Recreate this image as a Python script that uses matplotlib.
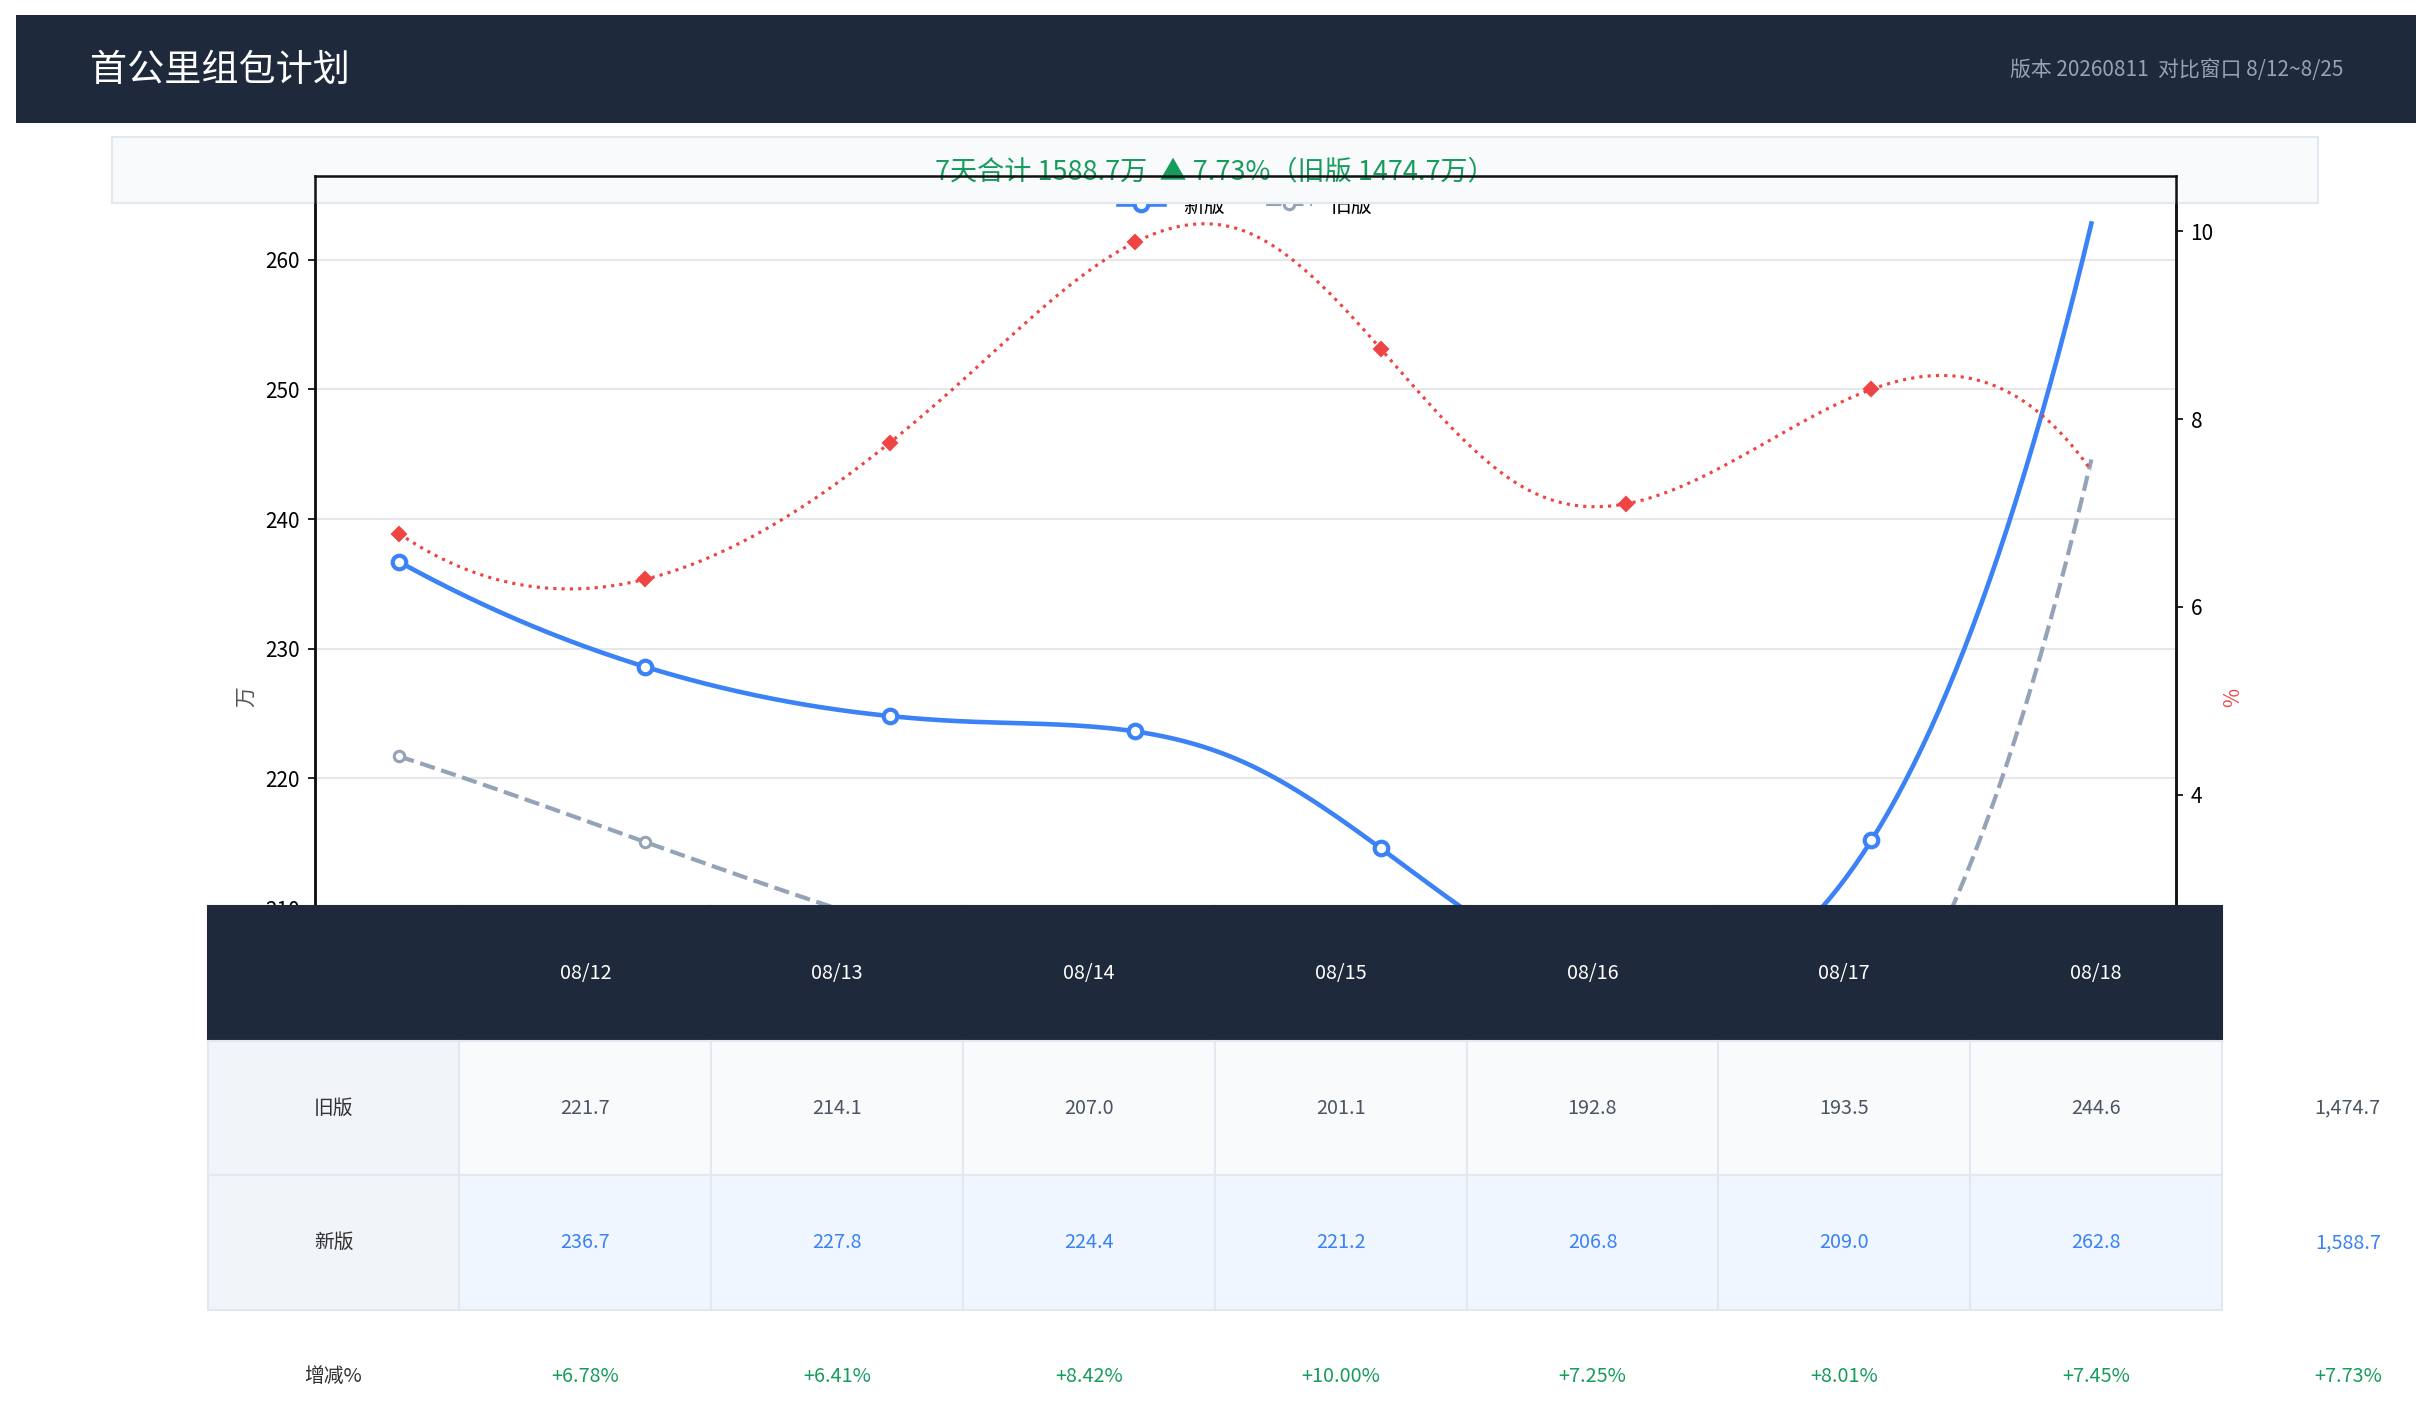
import numpy as np
import matplotlib
matplotlib.use('Agg')
import matplotlib.pyplot as plt
from matplotlib.patches import Rectangle

plt.rcParams['font.family'] = ['Noto Sans CJK SC', 'DejaVu Sans']

days = ['08/12', '08/13', '08/14', '08/15', '08/16', '08/17', '08/18']
old_vals = [221.7, 214.1, 207.0, 201.1, 192.8, 193.5, 244.6]
new_vals = [236.7, 227.8, 224.4, 221.2, 206.8, 209.0, 262.8]
pct_vals = [6.78, 6.41, 8.42, 10.00, 7.25, 8.01, 7.45]
old_total = 1474.7
new_total = 1588.7
pct_total = 7.73

BLUE = '#3b82f6'
GRAY = '#94a3b8'
RED = '#ef4444'
NAVY = '#1e293b'
GREEN = '#179c5e'

W, H = 2430, 1403


# not-a-knot cubic spline, unit spacing (same look as make_interp_spline k=3)
def smooth(y, xs):
    y = np.asarray(y, float)
    n = len(y)
    A = np.zeros((n, n))
    b = np.zeros(n)
    A[0, :3] = [1, -2, 1]
    A[-1, -3:] = [1, -2, 1]
    for i in range(1, n - 1):
        A[i, i - 1:i + 2] = [1, 4, 1]
        b[i] = 6 * (y[i + 1] - 2 * y[i] + y[i - 1])
    M = np.linalg.solve(A, b)
    i = np.clip(np.floor(xs).astype(int), 0, n - 2)
    t = xs - i
    return (M[i] * (1 - t) ** 3 / 6 + M[i + 1] * t ** 3 / 6
            + (y[i] - M[i] / 6) * (1 - t) + (y[i + 1] - M[i + 1] / 6) * t)


x = np.arange(len(days))
xs = np.linspace(0, len(days) - 1, 201)
every = 29

fig = plt.figure(figsize=(W / 150, H / 150), dpi=150)

# header band
fig.patches.append(Rectangle((15.5 / W, 1 - 123 / H), 2400 / W, 108 / H,
                             transform=fig.transFigure, fc=NAVY, ec='none', zorder=1))
fig.text(90 / W, 1 - 70 / H, '首公里组包计划', color='white', fontsize=17.8,
         va='center', ha='left', zorder=2)
fig.text(2343 / W, 1 - 70 / H, '版本 20260811  对比窗口 8/12~8/25', color='#94a3b8',
         fontsize=10, va='center', ha='right', zorder=2)

# summary box
fig.patches.append(Rectangle((111.6 / W, 1 - 203 / H), 2206 / W, 66.3 / H,
                             transform=fig.transFigure, fc='#f8fafc', ec='#e2e8f0',
                             lw=1, zorder=1))
summary = f'7天合计 {new_total:.1f}万  ▲ {pct_total:.2f}%（旧版 {old_total:.1f}万）'
fig.text(0.5, 1 - 172 / H, summary, color=GREEN, fontsize=13,
         ha='center', va='center', zorder=1.5)

# main chart
ax = fig.add_axes([314.6 / W, 1 - 1218 / H, (2176 - 314.6) / W, (1218 - 176) / H])
ax.set_zorder(0)
ax.plot(xs, smooth(new_vals, xs), color=BLUE, lw=2.2, marker='o', ms=6.5,
        mfc='white', mec=BLUE, mew=2, markevery=every, label='新版')
ax.plot(xs, smooth(old_vals, xs), color=GRAY, lw=2, ls='--', marker='o', ms=5,
        mfc='white', mec=GRAY, mew=1.5, markevery=every, label='旧版')
ax.set_ylim(186.1, 266.46)
ax.grid(axis='y', color='#e5e7eb', lw=1)
ax.set_axisbelow(True)
ax.set_ylabel('万', color='#555555', fontsize=10)
ax.tick_params(labelsize=10)
ax.legend(loc='upper center', ncol=2, frameon=False, fontsize=10,
          handlelength=2.2, handletextpad=0.9, columnspacing=2)

ax2 = ax.twinx()
ax2.set_zorder(2)
ax2.plot(xs, smooth(pct_vals, xs), color=RED, lw=1.5, ls=':', marker='D', ms=5,
         mfc=RED, mec=RED, markevery=every)
ax2.set_ylim(-0.51, 10.59)
ax2.set_ylabel('%', color=RED, fontsize=10)
ax2.tick_params(labelsize=10)
for a in (ax, ax2):
    for s in a.spines.values():
        s.set_linewidth(1.2)
        s.set_color('#111111')

# table on top of the lower part of the chart
tax = fig.add_axes([207.7 / W, 1 - 1444 / H, 2266 / W, 537.6 / H])
tax.set_zorder(5)
tax.axis('off')

header = [''] + days + ['']
row_old = ['旧版'] + [f'{v:.1f}' for v in old_vals] + [f'{old_total:,.1f}']
row_new = ['新版'] + [f'{v:.1f}' for v in new_vals] + [f'{new_total:,.1f}']
row_pct = ['增减%'] + [f'+{v:.2f}%' for v in pct_vals] + [f'+{pct_total:.2f}%']

tab = tax.table(cellText=[header, row_old, row_new, row_pct], bbox=[0, 0, 1, 1],
                cellLoc='center')
tab.auto_set_font_size(False)
tab.set_fontsize(9.5)
ncol = len(header)
for (r, c), cell in tab.get_celld().items():
    cell.set_linewidth(1)
    txt = cell.get_text()
    last = c == ncol - 1
    if r == 0:
        if last:
            cell.set_facecolor('white')
            cell.visible_edges = ''
        else:
            cell.set_facecolor(NAVY)
            cell.set_edgecolor(NAVY)
        txt.set_color('white')
    elif r == 3:
        cell.set_facecolor('white')
        cell.visible_edges = ''
        txt.set_color('#333333' if c == 0 else GREEN)
    else:
        color = '#4b5563' if r == 1 else BLUE
        if last:
            cell.set_facecolor('white')
            cell.visible_edges = ''
            txt.set_color(color)
        elif c == 0:
            cell.set_facecolor('#f1f5f9')
            cell.set_edgecolor('#e2e8f0')
            txt.set_color('#333333')
        else:
            cell.set_facecolor('#f8fafc' if r == 1 else '#eff6ff')
            cell.set_edgecolor('#e2e8f0')
            txt.set_color(color)

fig.savefig('out.png', dpi=150)
